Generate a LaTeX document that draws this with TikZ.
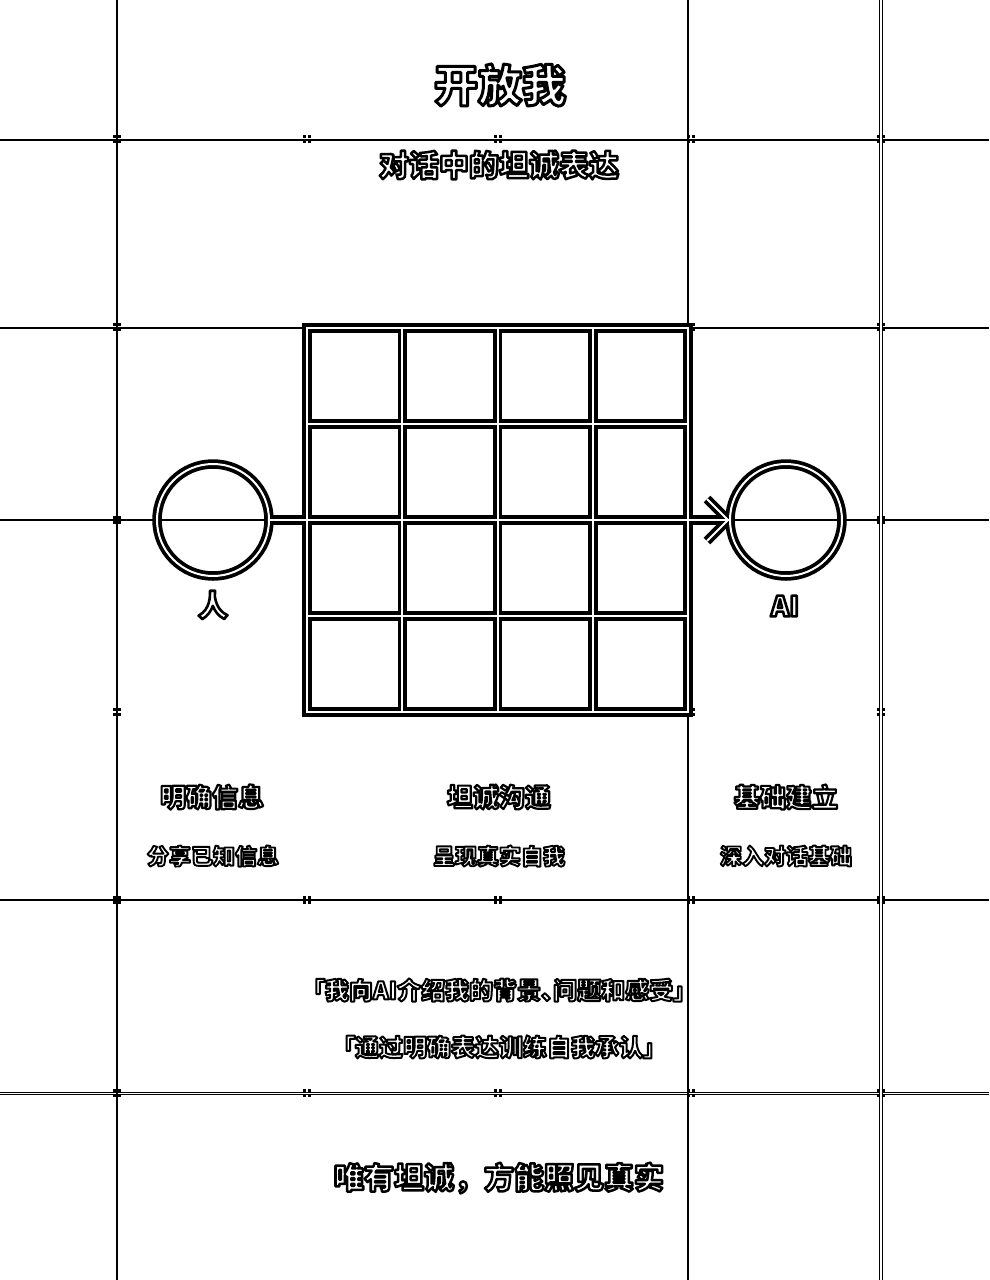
\documentclass[tikz,border=0pt]{standalone}
\usepackage{fontspec}
\setmainfont{Noto Sans CJK SC}
\newfontfamily\cjkpalt{Noto Sans CJK SC}[RawFeature=+palt]
\usetikzlibrary{calc}
\tikzset{
  guide/.style={line width=1.2pt, black},
  guidedbl/.style={line width=1.2pt, black, double=white, double distance=1.2pt},
  blk/.style={line width=9.5pt, black},
  wht/.style={line width=2pt, white},
  ringnode/.style={circle, draw=black, line width=9.5pt, minimum size=112pt, inner sep=0pt, outer sep=0pt},
  lbl/.style={text=black, inner sep=0pt},
}
% outlined text: one copy, drawn in stroke-only render mode
\newcommand{\outlined}[2][2.4]{\special{pdf:literal direct #1 w 1 j 1 J 1 Tr}#2\special{pdf:literal direct 0 Tr}}
\begin{document}
\begin{tikzpicture}[x=1pt,y=-1pt]
\useasboundingbox (0,0) rectangle (989,1280);
\fill[white] (0,0) rectangle (989,1280);
% guide lines
\foreach \y in {140,328,520,900} \draw[guide] (0,\y) -- (989,\y);
\draw[guidedbl] (0,1093.5) -- (989,1093.5);
\foreach \x in {117,688} \draw[guide] (\x,0) -- (\x,1280);
\draw[guidedbl] (881,0) -- (881,1280);
% registration marks
\foreach \x in {117,307,498,691,881}{
  \foreach \y in {139,327,520,712,900,1093}{
    \fill[black] (\x-4.3,\y-4.3) rectangle (\x-1,\y-1);
    \fill[black] (\x+1,\y-4.3) rectangle (\x+4.3,\y-1);
    \fill[black] (\x-4.3,\y+1) rectangle (\x-1,\y+4.3);
    \fill[black] (\x+1,\y+1) rectangle (\x+4.3,\y+4.3);
  }}
% texts
\node[lbl, font=\bfseries\fontsize{44pt}{48pt}\selectfont] (title) at (500,85) {\outlined[3.0]{开放我}};
\node[lbl, font=\bfseries\fontsize{30pt}{34pt}\selectfont] (subtitle) at (499,165) {\outlined[2.5]{对话中的坦诚表达}};
% circles
\node[ringnode] (human) at (213,520) {};
\node[ringnode] (ai) at (786,520) {};
\node[lbl, font=\bfseries\fontsize{30pt}{34pt}\selectfont] (humanlbl) at (213,605) {\outlined[2.6]{人}};
\node[lbl, font=\bfseries\fontsize{28pt}{32pt}\selectfont] (ailbl) at (785,606) {\outlined[2.6]{AI}};
% black layer
\draw[blk] (human.east) -- (ai.west);
\coordinate (tip) at ($(ai.west)+(-2,0)$);
\draw[blk, line join=miter] ($(tip)+(-21,-21)$) -- (tip) -- ($(tip)+(-21,21)$);
\foreach \i in {0,...,4}{
  \draw[blk, line cap=rect] ({307+95.25*\i},328) -- ({307+95.25*\i},712);
  \draw[blk, line cap=rect] (307,{328+96*\i}) -- (688,{328+96*\i});
}
% white layer
\draw[wht] (human.east) -- (ai.west);
\draw[wht] (human.center) circle[radius=56];
\draw[wht] (ai.center) circle[radius=56];
\draw[wht, line join=miter] ($(tip)+(-21,-21)$) -- (tip) -- ($(tip)+(-21,21)$);
\foreach \i in {0,...,4}{
  \draw[wht, line cap=rect] ({307+95.25*\i},328) -- ({307+95.25*\i},712);
  \draw[wht, line cap=rect] (307,{328+96*\i}) -- (688,{328+96*\i});
}
% column texts
\node[lbl, font=\bfseries\fontsize{26pt}{30pt}\selectfont] (h1) at (212,797) {\outlined[2.2]{明确信息}};
\node[lbl, font=\bfseries\fontsize{26pt}{30pt}\selectfont] (h2) at (499,797) {\outlined[2.2]{坦诚沟通}};
\node[lbl, font=\bfseries\fontsize{26pt}{30pt}\selectfont] (h3) at (786,797) {\outlined[2.2]{基础建立}};
\node[lbl, font=\bfseries\fontsize{22pt}{26pt}\selectfont] (s1) at (213,856) {\outlined[1.9]{分享已知信息}};
\node[lbl, font=\bfseries\fontsize{22pt}{26pt}\selectfont] (s2) at (499,856) {\outlined[1.9]{呈现真实自我}};
\node[lbl, font=\bfseries\fontsize{22pt}{26pt}\selectfont] (s3) at (786,856) {\outlined[1.9]{深入对话基础}};
% quotes
\node[lbl, font=\cjkpalt\bfseries\fontsize{24pt}{28pt}\selectfont] (q1) at (499,990) {\outlined[2.0]{「我向AI介绍我的背景、问题和感受」}};
\node[lbl, font=\cjkpalt\bfseries\fontsize{24pt}{28pt}\selectfont] (q2) at (499,1047) {\outlined[2.0]{「通过明确表达训练自我承认」}};
% motto
\node[lbl, font=\bfseries\fontsize{30pt}{34pt}\selectfont] (motto) at (499,1178) {\outlined[2.5]{唯有坦诚，方能照见真实}};
\end{tikzpicture}
\end{document}
